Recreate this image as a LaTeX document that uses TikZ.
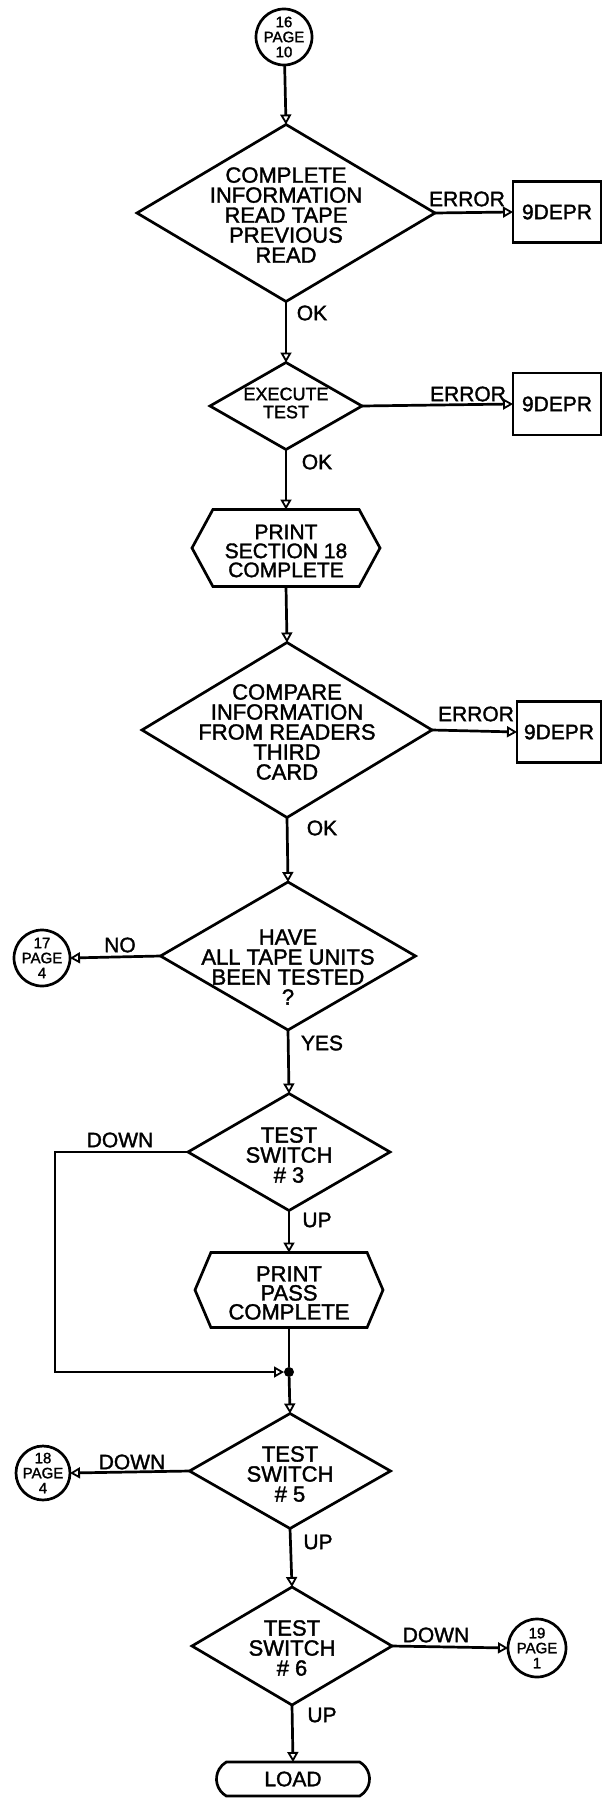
\documentclass[tikz,border=0pt]{standalone}
\usepackage{fontspec}
\setmainfont{Liberation Sans}[RawFeature={embolden=1.6}]
\usetikzlibrary{shapes.geometric,shapes.misc,shapes.symbols,arrows.meta}
\begin{document}
\begin{tikzpicture}[x=1pt,y=-1pt,
  line width=2.7pt,
  every node/.style={align=center, inner sep=0pt, outer sep=0pt},
  txt/.style={font=\fontsize{22}{20}\selectfont},
  stxt/.style={font=\fontsize{18}{18}\selectfont},
  ctxt/.style={font=\fontsize{15}{15}\selectfont},
  lbl/.style={font=\fontsize{21}{21}\selectfont},
  dia/.style={draw, diamond},
  hexa/.style={draw, signal, signal to=west and east},
  conn/.style={draw, circle},
  box/.style={draw, rectangle, font=\fontsize{21}{21}\selectfont},
  flow/.style={-{Triangle[open,length=10pt,width=11pt,line width=1.8pt]}},
]
\useasboundingbox (0,0) rectangle (603,1798);

% connectors (circles)
\node[conn, minimum size=56pt] (c16) at (284,37) {};
\node[ctxt] (c16t) at (c16) {16\\PAGE\\10};

% decision 1
\node[dia, minimum width=298pt, minimum height=177pt] (d1) at (286,213) {};
\node[txt] (d1t) at (286,215) {COMPLETE\\INFORMATION\\READ TAPE\\PREVIOUS\\READ};
\node[box, minimum width=88pt, minimum height=61pt] (b1) at (557,212) {9DEPR};

% decision 2
\node[dia, minimum width=152pt, minimum height=87pt] (d2) at (286,406) {};
\node[stxt] (d2t) at (286,403) {EXECUTE\\TEST};
\node[box, minimum width=88pt, minimum height=62pt] (b2) at (557,404) {9DEPR};

% print section 18
\node[hexa, minimum width=188pt, minimum height=77pt, signal pointer angle=123] (h1) at (286,548) {};
\node[txt, font=\fontsize{21}{19}\selectfont] (h1t) at (286,551) {PRINT\\SECTION 18\\COMPLETE};

% decision 3
\node[dia, minimum width=290pt, minimum height=175pt] (d3) at (287,730) {};
\node[txt] (d3t) at (287,732) {COMPARE\\INFORMATION\\FROM READERS\\THIRD\\CARD};
\node[box, minimum width=84pt, minimum height=61pt] (b3) at (559,732) {9DEPR};

% decision 4
\node[dia, minimum width=255pt, minimum height=148pt] (d4) at (288,956) {};
\node[txt] (d4t) at (288,967) {HAVE\\ALL TAPE UNITS\\BEEN TESTED\\?};
\node[conn, minimum size=56pt] (c17) at (42,958) {};
\node[ctxt] (c17t) at (c17) {17\\PAGE\\4};

% decision 5
\node[dia, minimum width=202pt, minimum height=117pt] (d5) at (289,1152) {};
\node[txt] (d5t) at (289,1155) {TEST\\SWITCH\\\# 3};

% print pass complete
\node[hexa, minimum width=188pt, minimum height=75pt, signal pointer angle=134] (h2) at (289,1290) {};
\node[txt, font=\fontsize{22}{19}\selectfont] (h2t) at (289,1293) {PRINT\\PASS\\COMPLETE};

% junction
\node[circle, fill, minimum size=10pt] (j) at (289,1372) {};
\coordinate (k) at (55,0);

% decision 6
\node[dia, minimum width=201pt, minimum height=115pt] (d6) at (290,1471) {};
\node[txt] (d6t) at (290,1474) {TEST\\SWITCH\\\# 5};
\node[conn, minimum size=54pt] (c18) at (43,1473) {};
\node[ctxt] (c18t) at (c18) {18\\PAGE\\4};

% decision 7
\node[dia, minimum width=200pt, minimum height=118pt] (d7) at (292,1646) {};
\node[txt] (d7t) at (292,1648) {TEST\\SWITCH\\\# 6};
\node[conn, minimum size=58pt] (c19) at (537,1648) {};
\node[ctxt] (c19t) at (c19) {19\\PAGE\\1};

% terminal
\node[draw, rounded rectangle, rounded rectangle arc length=120, minimum width=153pt, minimum height=34pt, font=\fontsize{21}{21}\selectfont] (load) at (293,1779) {LOAD};

% flow lines
\draw[flow] (c16) -- (d1.north);
\draw[flow] (d1.east) -- (b1.west);
\draw[flow] (d1.south) -- (d2.north);
\draw[flow] (d2.east) -- (b2.west);
\draw[flow] (d2.south) -- (h1.north);
\draw[flow] (h1.south) -- (d3.north);
\draw[flow] (d3.east) -- (b3.west);
\draw[flow] (d3.south) -- (d4.north);
\draw[flow] (d4.west) -- (c17.east);
\draw[flow] (d4.south) -- (d5.north);
\draw[flow] (d5.south) -- (h2.north);
\draw[flow] (d5.west) -- (d5.west -| k) |- (j.west);
\draw (h2.south) -- (j);
\draw[flow] (j) -- (d6.north);
\draw[flow] (d6.west) -- (c18.east);
\draw[flow] (d6.south) -- (d7.north);
\draw[flow] (d7.east) -- (c19.west);
\draw[flow] (d7.south) -- (load.north);

% labels
\node[lbl] (e1) at (467,199) {ERROR};
\node[lbl] (e2) at (468,394) {ERROR};
\node[lbl] (e3) at (476,714) {ERROR};
\node[lbl] (ok1) at (312,313) {OK};
\node[lbl] (ok2) at (317,462) {OK};
\node[lbl] (ok3) at (322,828) {OK};
\node[lbl] (no) at (120,945) {NO};
\node[lbl] (yes) at (322,1043) {YES};
\node[lbl] (dn1) at (120,1140) {DOWN};
\node[lbl] (up1) at (317,1220) {UP};
\node[lbl] (dn2) at (132,1462) {DOWN};
\node[lbl] (up2) at (318,1542) {UP};
\node[lbl] (dn3) at (436,1635) {DOWN};
\node[lbl] (up3) at (322,1715) {UP};
\end{tikzpicture}
\end{document}
